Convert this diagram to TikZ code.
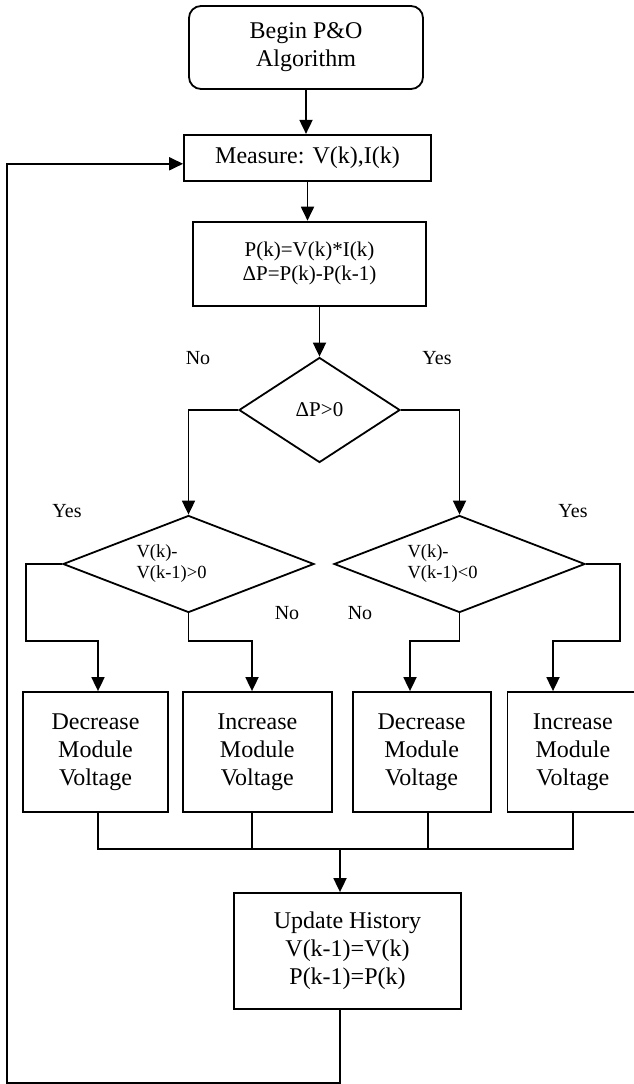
\documentclass[tikz,border=0pt]{standalone}
\usepackage{fontspec}
\setmainfont{Liberation Serif}
\usepackage{tikz}
\usetikzlibrary{arrows.meta,positioning,shapes.geometric}

\begin{document}
\begin{tikzpicture}[
  x=1pt, y=-1pt,
  box/.style={draw, line width=1.8pt, align=center, inner sep=2pt,
              font=\fontsize{24}{28}\selectfont},
  startbox/.style={box, rounded corners=12pt},
  decision/.style={draw, diamond, line width=1.8pt, inner sep=0pt, align=left},
  lbl/.style={inner sep=0pt, font=\fontsize{20}{24}\selectfont},
  arrow/.style={-{Triangle[length=14pt,width=13pt]}, line width=1.8pt},
  line/.style={line width=1.8pt}
]
  \useasboundingbox (0,0) rectangle (634,1084);

  \node[startbox, minimum width=234pt, minimum height=83pt] (begin) at (306,47.5) {Begin P\&O\\Algorithm};
  \node[box, minimum width=247pt, minimum height=46pt, below=44pt of begin, xshift=1.5pt] (measure) {Measure: V(k),I(k)};
  \node[box, minimum width=233pt, minimum height=84pt, font=\fontsize{21}{24}\selectfont,
        below=39pt of measure, xshift=2pt] (calc) {P(k)=V(k)*I(k)\\ΔP=P(k)-P(k-1)};

  \node[decision, aspect=1.53, minimum width=161pt, minimum height=105pt,
        font=\fontsize{21}{24}\selectfont] (dp) at (319.5,410) {ΔP>0};
  \node[decision, aspect=2.59, minimum width=251pt, minimum height=97pt, text width=104pt,
        font=\fontsize{18.5}{21}\selectfont] (dv1) at (188.5,564) {V(k)-\\V(k-1)>0};
  \node[decision, aspect=2.59, minimum width=251pt, minimum height=97pt, text width=104pt,
        font=\fontsize{18.5}{21}\selectfont] (dv2) at (459.5,564) {V(k)-\\V(k-1)<0};

  \node[lbl] (no1) at (198,358) {No};
  \node[lbl] (yes1) at (437,358) {Yes};
  \node[lbl] (yes2) at (67,511) {Yes};
  \node[lbl] (yes3) at (573,511) {Yes};
  \node[lbl] (no2) at (287,613) {No};
  \node[lbl] (no3) at (360,613) {No};

  \node[box, minimum width=145pt, minimum height=120pt] (dec1) at (95.5,752) {Decrease\\Module\\Voltage};
  \node[box, minimum width=149pt, minimum height=120pt, right=13pt of dec1] (inc1) {Increase\\Module\\Voltage};
  \node[box, minimum width=138pt, minimum height=120pt, right=19pt of inc1] (dec2) {Decrease\\Module\\Voltage};
  \node[box, minimum width=131pt, minimum height=120pt, right=15pt of dec2] (inc2) {Increase\\Module\\Voltage};

  \node[box, minimum width=227pt, minimum height=116pt] (update) at (347.5,951) {Update History\\V(k-1)=V(k)\\P(k-1)=P(k)};

  \coordinate (d1) at (98,641);
  \coordinate (d2) at (252,641);
  \coordinate (d3) at (410,641);
  \coordinate (d4) at (553,641);
  \coordinate (merge) at (340,849);
  \coordinate (back) at (7,1083);

  \draw[arrow] (begin.south) -- (begin.south |- measure.north);
  \draw[arrow] (measure.south) -- (measure.south |- calc.north);
  \draw[arrow] (calc.south -| dp.north) -- (dp.north);
  \draw[arrow] (dp.west) -| (dv1.north);
  \draw[arrow] (dp.east) -| (dv2.north);

  \draw[arrow] (dv1.west) -- ++(-36,0) |- (d1) -- (d1 |- dec1.north);
  \draw[arrow] (dv1.south) |- (d2) -- (d2 |- inc1.north);
  \draw[arrow] (dv2.south) |- (d3) -- (d3 |- dec2.north);
  \draw[arrow] (dv2.east) -- ++(34,0) |- (d4) -- (d4 |- inc2.north);

  \draw[line] (d1 |- dec1.south) |- (merge);
  \draw[line] (inc2.south) |- (merge);
  \draw[line] (d2 |- inc1.south) -- (d2 |- merge);
  \draw[line] ([xshift=6pt]dec2.south) -- ++(0,37);
  \draw[arrow] (merge) -- (merge |- update.north);

  \draw[arrow] (update.south -| merge) -- (back -| merge) -- (back) |- ([yshift=-6pt]measure.west);
\end{tikzpicture}
\end{document}
